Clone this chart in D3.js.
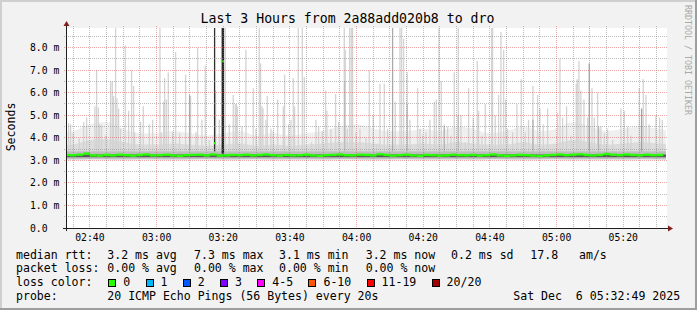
<!DOCTYPE html>
<html>
<head>
<meta charset="utf-8">
<script src="https://cdn.jsdelivr.net/npm/d3@7"></script>
<style>
  html, body { margin: 0; padding: 0; background: #f2f2f2; }
  svg { display: block; }
  text { font-family: "DejaVu Sans Mono", monospace; fill: #000; white-space: pre; }
</style>
</head>
<body>
<svg id="chart" width="697" height="310"></svg>
<script>
// ---- data ----
// median rtt (ms), one value every 2 minutes starting 02:32
const medianMs = [
  3.24, 3.23, 3.25, 3.30, 3.22, 3.21, 3.24, 3.22, 3.25, 3.23,
  3.21, 3.24, 3.26, 3.22, 3.23, 3.25, 3.22, 3.20, 3.23, 3.24,
  3.25, 3.22, 3.26, 3.21, 3.22, 3.24, 3.23, 3.25, 3.22, 3.24,
  3.26, 3.23, 3.21, 3.24, 3.22, 3.23, 3.25, 3.22, 3.20, 3.23,
  3.24, 3.26, 3.23, 3.22, 3.25, 3.24, 3.22, 3.27, 3.24, 3.21,
  3.23, 3.25, 3.22, 3.20, 3.24, 3.23, 3.21, 3.22, 3.25, 3.23,
  3.22, 3.24, 3.21, 3.23, 3.26, 3.22, 3.20, 3.22, 3.24, 3.23,
  3.21, 3.19, 3.22, 3.24, 3.26, 3.23, 3.25, 3.27, 3.24, 3.22,
  3.24, 3.28, 3.25, 3.23, 3.26, 3.24, 3.22, 3.25, 3.23, 3.24
];
// single samples where the median jumped: [minutes after 02:00, ms]
const medianPeaks = [[77.2, 3.76], [79.7, 7.39]];

// lowest ping, top of the dense haze and of the thin haze, every 5 minutes from 02:30
const minMs  = [3.03, 3.02, 3.04, 3.03, 3.02, 3.04, 3.03, 3.02, 3.03, 3.04,
                3.02, 3.03, 3.04, 3.02, 3.03, 3.03, 3.02, 3.04, 3.03, 3.02,
                3.03, 3.04, 3.02, 3.03, 3.03, 3.02, 3.04, 3.03, 3.02, 3.03,
                3.04, 3.02, 3.03, 3.03, 3.02, 3.04, 3.03, 3.03];
const hazeMs = [3.65, 3.70, 3.90, 3.95, 3.80, 3.70, 3.70, 3.75, 3.70, 3.65,
                3.70, 3.75, 3.65, 3.70, 3.65, 3.70, 3.75, 3.80, 3.80, 3.75,
                3.70, 3.70, 3.75, 3.70, 3.80, 3.75, 3.70, 3.70, 3.80, 3.70,
                3.75, 3.90, 3.80, 3.70, 3.75, 3.80, 3.75, 3.70];
const thinHazeMs = [4.2, 4.3, 4.6, 4.7, 4.4, 4.2, 4.2, 4.3, 4.2, 4.1,
                    4.2, 4.3, 4.1, 4.2, 4.1, 4.2, 4.3, 4.5, 4.6, 4.4,
                    4.3, 4.3, 4.4, 4.3, 4.5, 4.4, 4.2, 4.3, 4.5, 4.3,
                    4.4, 4.7, 4.5, 4.3, 4.4, 4.5, 4.4, 4.3];
// inner smoke bands (ms)
const innerBand = [3.07, 3.40];
const coreBand = [3.14, 3.26];

// highest ping spikes: [minutes after 02:00, ms]
const spikes = [
  [33.4,4.65],[34.0,4.6],[34.8,4.2],[36.6,4.0],[37.9,4.7],[38.8,4.9],[41.3,5.4],[41.8,7.0],[42.3,5.35],
  [42.7,4.6],[43.3,4.55],[44.5,4.1],[46.0,6.5],[46.5,6.5],[46.9,5.85],[47.5,9],[47.9,5.75],[48.4,5.3],
  [49.0,4.4],[50.4,8.1],[51.4,5.2],[52.3,7.0],[52.9,6.3],[53.2,4.25],[55.0,4.7],[55.8,5.4],[57.6,4.6],
  [58.6,4.8],[60.8,9],[61.2,4.25],[61.9,5.6],[62.2,6.65],[62.7,5.7],[63.3,6.9],[64.6,4.25],[65.5,7.8],
  [66.7,4.2],[68.5,6.8],[70.0,5.85],[71.6,4.25],[72.1,8.0],[73.4,4.8],[74.4,7.2],[75.6,3.9],[77.5,6.1],
  [78.6,4.8],[80.4,9],[81.6,4.6],[82.8,5.9],[83.4,5.5],[83.7,5.5],[84.0,5.4],[85.4,4.5],[86.6,7.9],
  [88.8,6.2],[89.6,4.4],[90.6,9],[91.0,7.3],[91.4,5.4],[91.7,5.3],[92.6,4.8],[93.0,5.85],[94.1,4.4],
  [94.8,4.3],[96.1,5.7],[97.8,5.4],[98.2,6.8],[99.4,4.6],[100.1,4.8],[100.8,6.65],[101.2,5.4],[102.3,9],
  [103.5,9],[104.1,6.7],[106.3,3.8],[107.6,4.8],[108.4,4.5],[109.5,4.3],[110.5,6.1],[110.9,5.2],
  [112.1,4.4],[113.5,5.95],[114.4,4.7],[116.1,9],[116.4,7.9],[117.0,4.4],[117.7,9],[118.2,9],[118.6,9],
  [119.6,4.25],[120.8,4.4],[122.6,4.0],[123.6,7.0],[124.8,5.0],[125.8,3.7],[126.8,6.4],[128.1,6.4],
  [129.1,4.4],[131.4,5.6],[132.8,9],[133.3,9],[133.9,8.4],[135.0,6.9],[135.8,4.8],[138.1,6.2],
  [138.8,4.4],[139.6,4.1],[140.6,4.25],[141.8,4.8],[143.1,5.6],[143.7,5.7],[144.5,9],[145.2,6.5],
  [146.1,4.6],[147.1,4.5],[148.1,4.1],[149.1,6.9],[150.3,9],[151.1,5.0],[152.4,3.8],[153.4,6.2],
  [154.8,4.9],[156.0,7.4],[156.4,5.2],[157.4,4.1],[158.4,5.5],[160.3,9],[160.6,9],[161.4,5.0],
  [162.4,5.9],[163.1,8.7],[163.9,7.9],[164.5,5.7],[165.1,4.4],[166.6,4.25],[167.9,5.5],[169.2,6.6],
  [170.4,4.25],[171.4,4.8],[172.7,6.3],[174.1,5.9],[174.8,5.3],[175.8,4.6],[177.1,5.3],[180.1,5.1],
  [180.8,7.5],[181.6,4.9],[182.8,5.4],[184.1,4.1],[185.7,6.4],[186.0,6.6],[186.5,7.4],[187.1,6.1],
  [188.0,5.7],[189.1,4.9],[190.4,6.2],[191.1,4.9],[192.1,6.0],[193.1,4.5],[194.1,4.2],[195.1,4.4],
  [196.6,3.9],[199.1,5.3],[200.1,5.2],[201.1,4.5],[202.1,4.1],[204.6,6.2],[205.8,6.6],[206.6,5.9],
  [207.6,4.6],[209.6,5.0],[210.7,4.9],[211.5,4.8]
];
// denser smoke columns: [minutes after 02:00, low ms, high ms, density 0..1]
const darkSpikes = [
  [69.7,3.4,5.9,0.15],[77.2,3.4,9,0.85],[79.5,3.3,9,0.95],[79.85,3.3,9,0.95],[116.2,3.4,6.5,0.1],
  [130.6,3.4,9,0.2],[135.0,3.4,5.5,0.12],[146.1,3.4,4.5,0.15],[150.3,3.4,5.0,0.12],
  [172.7,3.4,4.8,0.15],[189.6,3.4,7.3,0.22],[192.4,3.4,4.5,0.15],[205.3,3.4,5.3,0.25]
];

const yTicks = [0, 1, 2, 3, 4, 5, 6, 7, 8];
const title = "Last 3 Hours from 2a88add020b8 to dro";
const rttStats = ["median rtt:", "3.2 ms avg", "7.3 ms max", "3.1 ms min", "3.2 ms now", "0.2 ms sd", "17.8", "am/s"];
const lossStats = ["packet loss:", "0.00 % avg", "0.00 % max", "0.00 % min", "0.00 % now"];
const lossLabels = ["0", "1", "2", "3", "4-5", "6-10", "11-19", "20/20"];
const lossColors = ["#26ff00", "#00b8ff", "#0059ff", "#7e00ff", "#ff00ff", "#ff5500", "#ff0000", "#a10000"];
const probeText = "20 ICMP Echo Pings (56 Bytes) every 20s";
const stamp = "Sat Dec  6 05:32:49 2025";

// ---- chart ----
const base = new Date(2025, 11, 6, 2, 0, 0);
const T = m => new Date(base.getTime() + m * 60000);
const t0 = new Date(2025, 11, 6, 2, 32, 49), t1 = new Date(2025, 11, 6, 5, 32, 49);

const svg = d3.select("#chart");
const x = d3.scaleTime().domain([t0, t1]).range([66, 666]);
const y = d3.scaleLinear().domain([0, 8.87]).range([228, 28]);
const px = v => Math.floor(v) + 0.5;

// background and 3d frame
svg.append("rect").attr("width", 697).attr("height", 310).attr("fill", "#f2f2f2");
svg.append("rect").attr("x", 0).attr("y", 0).attr("width", 697).attr("height", 2).attr("fill", "#cfcfcf");
svg.append("rect").attr("x", 0).attr("y", 0).attr("width", 2).attr("height", 310).attr("fill", "#cfcfcf");
svg.append("rect").attr("x", 0).attr("y", 308).attr("width", 697).attr("height", 2).attr("fill", "#9e9e9e");
svg.append("rect").attr("x", 695).attr("y", 0).attr("width", 2).attr("height", 310).attr("fill", "#9e9e9e");

// canvas
svg.append("rect").attr("x", 66).attr("y", 28).attr("width", 601).attr("height", 200).attr("fill", "#fff");

// smoke
svg.append("clipPath").attr("id", "plot").append("rect")
  .attr("x", 66).attr("y", 28).attr("width", 600).attr("height", 200);
const g = svg.append("g").attr("clip-path", "url(#plot)");

const bandT = minMs.map((d, i) => T(30 + 5 * i));
const band = d3.area().curve(d3.curveMonotoneX).x(d => x(d[0])).y0(d => y(d[1])).y1(d => y(d[2]));
g.append("path")
  .datum(bandT.map((t, i) => [t, minMs[i], thinHazeMs[i]]))
  .attr("fill", "#efefef")
  .attr("d", band);
g.append("path")
  .datum(bandT.map((t, i) => [t, minMs[i], hazeMs[i]]))
  .attr("fill", "#dcdcdc")
  .attr("d", band);

g.selectAll(".spike").data(spikes).enter().append("rect")
  .attr("x", d => x(T(d[0])))
  .attr("width", 1.3)
  .attr("y", d => y(Math.min(d[1], 9)))
  .attr("height", d => y(3.35) - y(Math.min(d[1], 9)))
  .attr("fill", "#d3d3d3");

g.append("rect")
  .attr("x", 66).attr("width", 600)
  .attr("y", y(innerBand[1])).attr("height", y(innerBand[0]) - y(innerBand[1]))
  .attr("fill", "#bdbdbd");
g.append("rect")
  .attr("x", 66).attr("width", 600)
  .attr("y", y(coreBand[1])).attr("height", y(coreBand[0]) - y(coreBand[1]))
  .attr("fill", "#5a5a5a");

const shade = d3.scaleLinear().domain([0, 1]).range(["#d0d0d0", "#141414"]);
g.selectAll(".dark").data(darkSpikes).enter().append("rect")
  .attr("x", d => x(T(d[0])))
  .attr("width", 1.3)
  .attr("y", d => y(Math.min(d[2], 9)))
  .attr("height", d => y(d[1]) - y(Math.min(d[2], 9)))
  .attr("fill", d => shade(d[3]));

// grid (drawn over the smoke, as in the reference)
const grid = svg.append("g").attr("shape-rendering", "crispEdges").attr("stroke-dasharray", "1,1");
const minorY = d3.range(0.5, 8.87, 1);
grid.selectAll(".gy").data(minorY).enter().append("line")
  .attr("x1", 64).attr("x2", 668).attr("y1", d => px(y(d))).attr("y2", d => px(y(d)))
  .attr("stroke", "#8f8f8f").attr("stroke-opacity", 0.6);
const minorX = x.ticks(d3.timeMinute.every(5)).filter(d => d.getMinutes() % 20 !== 0);
grid.selectAll(".gx").data(minorX).enter().append("line")
  .attr("y1", 26).attr("y2", 230).attr("x1", d => px(x(d))).attr("x2", d => px(x(d)))
  .attr("stroke", "#8f8f8f").attr("stroke-opacity", 0.6);
grid.selectAll(".my").data(yTicks.slice(1)).enter().append("line")
  .attr("x1", 64).attr("x2", 668).attr("y1", d => px(y(d))).attr("y2", d => px(y(d)))
  .attr("stroke", "#de4f4f").attr("stroke-opacity", 0.5);
const majorX = x.ticks(d3.timeMinute.every(20));
grid.selectAll(".mx").data(majorX).enter().append("line")
  .attr("y1", 26).attr("y2", 230).attr("x1", d => px(x(d))).attr("x2", d => px(x(d)))
  .attr("stroke", "#de4f4f").attr("stroke-opacity", 0.5);

// median
const m = svg.append("g").attr("clip-path", "url(#plot)");
m.selectAll(".med").data(medianMs).enter().append("rect")
  .attr("x", (d, i) => x(T(32 + 2 * i)))
  .attr("width", (d, i) => x(T(34 + 2 * i)) - x(T(32 + 2 * i)))
  .attr("y", d => y(d) - 1.2)
  .attr("height", 2.4)
  .attr("fill", lossColors[0]);
m.selectAll(".peak").data(medianPeaks).enter().append("rect")
  .attr("x", d => x(T(d[0])))
  .attr("width", 1.5)
  .attr("y", d => y(d[1]) - 1)
  .attr("height", 2)
  .attr("fill", lossColors[0]);

// axes
const axis = svg.append("g").attr("shape-rendering", "crispEdges");
axis.append("line").attr("x1", 63).attr("x2", 669).attr("y1", 228.5).attr("y2", 228.5).attr("stroke", "#1f1f1f");
axis.append("line").attr("x1", 66.5).attr("x2", 66.5).attr("y1", 231).attr("y2", 25).attr("stroke", "#1f1f1f");
svg.append("path").attr("d", "M668,225.5 L673,228.5 L668,231.5 Z").attr("fill", "#801f1f");
svg.append("path").attr("d", "M63.5,26 L66.5,21 L69.5,26 Z").attr("fill", "#801f1f");

// tick labels
svg.selectAll(".yl").data(yTicks).enter().append("text")
  .attr("x", 30).attr("y", d => y(d) + 3.5)
  .attr("font-size", "9.75px")
  .text(d => d === 0 ? "0.0" : d.toFixed(1) + " m");
svg.selectAll(".xl").data(majorX).enter().append("text")
  .attr("x", d => x(d)).attr("y", 240.5)
  .attr("text-anchor", "middle")
  .attr("font-size", "9.75px")
  .text(d3.timeFormat("%H:%M"));

svg.append("text")
  .attr("transform", "translate(11,127) rotate(-90)")
  .attr("text-anchor", "middle").attr("dominant-baseline", "central")
  .attr("font-size", "11.55px")
  .text("Seconds");

svg.append("text")
  .attr("x", 347.5).attr("y", 23)
  .attr("text-anchor", "middle")
  .attr("font-size", "13.2px")
  .text(title);

svg.append("text")
  .attr("transform", "translate(687.5,60) rotate(90)")
  .attr("text-anchor", "middle").attr("dominant-baseline", "central")
  .attr("font-size", "8.3px")
  .style("fill", "#a9a9a9")
  .text("RRDTOOL / TOBI OETIKER");

// legend
const cols = [16, 107.3, 194, 279, 365.7, 451, 530.3, 579];
const legend = svg.append("g").attr("font-size", "11.55px");
rttStats.forEach((s, i) => legend.append("text").attr("x", cols[i]).attr("y", 258.5).text(s));
lossStats.forEach((s, i) => legend.append("text").attr("x", cols[i]).attr("y", 272.2).text(s));
legend.append("text").attr("x", 16).attr("y", 285.9).text("loss color:");
let bx = 108.3;
lossLabels.forEach((lab, i) => {
  legend.append("rect")
    .attr("x", Math.round(bx) + 0.5).attr("y", 279.5).attr("width", 7).attr("height", 7)
    .attr("fill", lossColors[i]).attr("stroke", "#000").attr("shape-rendering", "crispEdges");
  legend.append("text").attr("x", bx + 15).attr("y", 285.9).text(lab);
  bx += 15 + lab.length * 6.95 + 15.3;
});
legend.append("text").attr("x", 16).attr("y", 299.6).text("probe:");
legend.append("text").attr("x", 107.3).attr("y", 299.6).text(probeText);
legend.append("text").attr("x", 513.3).attr("y", 299.6).text(stamp);
</script>
</body>
</html>
